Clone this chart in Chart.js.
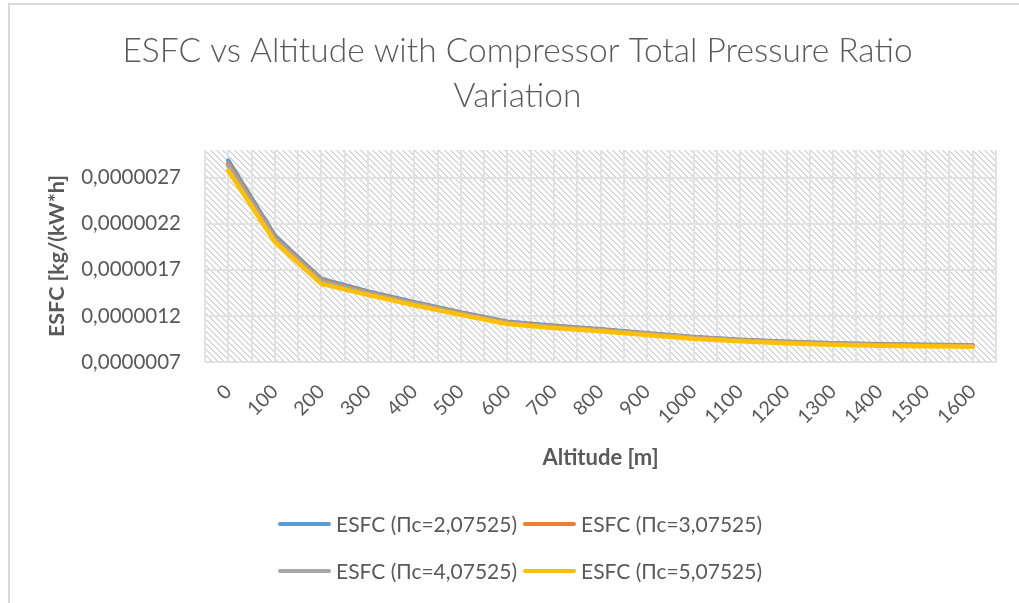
<!DOCTYPE html>
<html>
<head>
<meta charset="utf-8">
<script src="https://cdn.jsdelivr.net/npm/chart.js@4.4.1/dist/chart.umd.min.js"></script>
<style>
  body { margin: 0; overflow: hidden; background: #fff; width: 1019px; height: 603px; }
  #frame { position: absolute; left: 8px; top: 3px; width: 1100px; height: 700px; border: 2px solid #d9d9d9; box-sizing: border-box; }
  #wrap { position: absolute; left: 0; top: 0; width: 1035px; height: 603px; }
  #legend { position: absolute; left: 278px; top: 500px; display: grid; grid-template-columns: 245px 245px; grid-auto-rows: 47px; }
  .item { display: flex; align-items: center; font: 21px Lato, "Open Sans", sans-serif; color: #595959; white-space: nowrap; }
  .swatch { width: 53px; height: 4px; border-radius: 2px; margin-right: 5px; }
</style>
</head>
<body>
<div id="frame"></div>
<div id="wrap"><canvas id="chart"></canvas></div>
<div id="legend"></div>
<script>
// altitudes [m]
const altitudes = ["0", "100", "200", "300", "400", "500", "600", "700", "800", "900", "1000", "1100", "1200", "1300", "1400", "1500", "1600"];

// ESFC [kg/(kW*h)]
const esfcPc2 = [2.885e-6, 2.069e-6, 1.602e-6, 1.466e-6, 1.349e-6, 1.238e-6, 1.137e-6, 1.092e-6, 1.056e-6, 1.013e-6, 0.971e-6, 0.942e-6, 0.919e-6, 0.904e-6, 0.892e-6, 0.887e-6, 0.881e-6];
const esfcPc3 = [2.852e-6, 2.048e-6, 1.585e-6, 1.454e-6, 1.338e-6, 1.229e-6, 1.129e-6, 1.085e-6, 1.049e-6, 1.007e-6, 0.965e-6, 0.937e-6, 0.914e-6, 0.899e-6, 0.887e-6, 0.882e-6, 0.876e-6];
const esfcPc4 = [2.830e-6, 2.037e-6, 1.575e-6, 1.447e-6, 1.332e-6, 1.225e-6, 1.125e-6, 1.081e-6, 1.045e-6, 1.003e-6, 0.962e-6, 0.934e-6, 0.911e-6, 0.896e-6, 0.885e-6, 0.880e-6, 0.874e-6];
const esfcPc5 = [2.776e-6, 2.004e-6, 1.548e-6, 1.428e-6, 1.316e-6, 1.211e-6, 1.113e-6, 1.070e-6, 1.034e-6, 0.993e-6, 0.953e-6, 0.925e-6, 0.903e-6, 0.888e-6, 0.877e-6, 0.872e-6, 0.866e-6];

const seriesNames = ["ESFC (Пс=2,07525)", "ESFC (Пс=3,07525)", "ESFC (Пс=4,07525)", "ESFC (Пс=5,07525)"];
const yTicks = [0.0000007, 0.0000012, 0.0000017, 0.0000022, 0.0000027];

const FONT = "Lato, 'Open Sans', sans-serif";
const TEXT = "#595959";
const GRID = "#e2e2e2";

// diagonal hatch behind the plot area, like the excel pattern fill
const hatchPlugin = {
  id: "hatch",
  beforeDraw(chart) {
    const { ctx, chartArea: a } = chart;
    const tile = document.createElement("canvas");
    tile.width = 6;
    tile.height = 6;
    const t = tile.getContext("2d");
    t.fillStyle = "#fff";
    t.fillRect(0, 0, 6, 6);
    t.fillStyle = "#d9d9d9";
    for (let y = 0; y < 6; y++) {
      for (let x = 0; x < 6; x++) {
        if ((x - y + 6) % 6 < 2) t.fillRect(x, y, 1, 1);
      }
    }
    ctx.save();
    ctx.fillStyle = ctx.createPattern(tile, "repeat");
    ctx.fillRect(a.left, a.top, a.right - a.left, a.bottom - a.top);
    ctx.restore();
  },
};

const ctx = document.getElementById("chart").getContext("2d");
const chart = new Chart(ctx, {
  type: "line",
  data: {
    labels: altitudes,
    datasets: [
      { label: seriesNames[0], data: esfcPc2, borderColor: "#5B9BD5", order: 4 },
      { label: seriesNames[1], data: esfcPc3, borderColor: "#ED7D31", order: 3 },
      { label: seriesNames[2], data: esfcPc4, borderColor: "#A5A5A5", order: 2 },
      { label: seriesNames[3], data: esfcPc5, borderColor: "#FFC000", order: 1 },
    ],
  },
  options: {
    responsive: true,
    maintainAspectRatio: false,
    animation: false,
    events: [],
    layout: { padding: { left: 39, right: 39, top: 0, bottom: 120 } },
    elements: {
      point: { radius: 0 },
      line: { borderWidth: 4.5, tension: 0, borderCapStyle: "round", borderJoinStyle: "round", fill: false },
    },
    plugins: {
      legend: { display: false },
      tooltip: { enabled: false },
      title: {
        display: true,
        text: ["ESFC vs Altitude with Compressor Total Pressure Ratio", "Variation"],
        color: TEXT,
        font: { family: FONT, size: 33.5, weight: "300", lineHeight: 1.343 },
        padding: { top: 29, bottom: 31 },
      },
    },
    scales: {
      x: {
        offset: true,
        afterFit: (s) => { s.height = 121; },
        ticks: { autoSkip: false, minRotation: 45, maxRotation: 45, padding: 18, color: TEXT, font: { family: FONT, size: 19.5 } },
        grid: { offset: false, color: GRID, lineWidth: 2, drawTicks: false },
        border: { display: false },
        title: { display: true, text: "Altitude [m]", color: TEXT, font: { family: FONT, size: 22, weight: "bold" }, padding: { top: 0, bottom: 12 } },
      },
      x2: {
        type: "category",
        position: "top",
        offset: true,
        ticks: { display: false },
        grid: { offset: true, color: GRID, lineWidth: 2, drawTicks: false },
        border: { display: false },
      },
      y: {
        min: 0.0000007,
        max: 0.000003,
        afterBuildTicks: (s) => { s.ticks = yTicks.map((v) => ({ value: v })); },
        afterFit: (s) => { s.width = 166; },
        ticks: { padding: 24, color: TEXT, font: { family: FONT, size: 20.5 }, callback: (v) => v.toFixed(7).replace(".", ",") },
        grid: { color: GRID, lineWidth: 2, drawTicks: false },
        border: { display: false },
        title: { display: true, text: "ESFC [kg/(kW*h]", color: TEXT, font: { family: FONT, size: 21.5, weight: "bold" }, padding: { top: 5 } },
      },
    },
  },
  plugins: [hatchPlugin],
});

// legend in two rows of two, built from the datasets
const legend = document.getElementById("legend");
chart.data.datasets.forEach((ds) => {
  const item = document.createElement("div");
  item.className = "item";
  const sw = document.createElement("span");
  sw.className = "swatch";
  sw.style.background = ds.borderColor;
  item.appendChild(sw);
  item.appendChild(document.createTextNode(ds.label));
  legend.appendChild(item);
});
</script>
</body>
</html>
